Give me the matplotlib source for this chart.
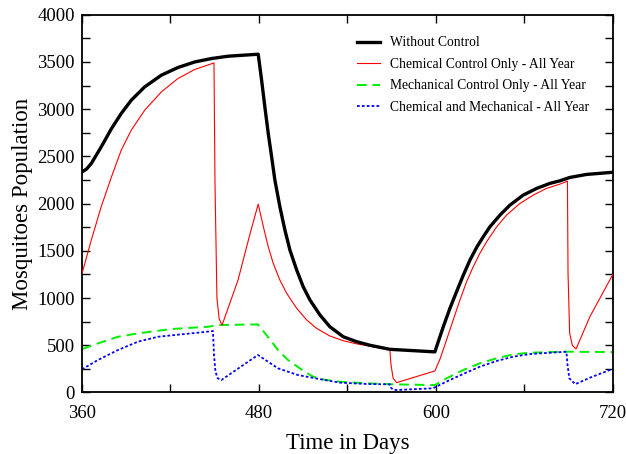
import matplotlib
matplotlib.use("Agg")
import matplotlib.pyplot as plt
from matplotlib.ticker import MultipleLocator

plt.rcParams['font.family'] = ['Liberation Serif', 'DejaVu Serif']

# Without Control
t_black = [360, 363, 366.3, 373, 380, 386.6, 393.4, 402.5, 413.8, 425, 436.4, 447.7, 459, 479.5,
           481.8, 484, 486.3, 488.6, 490.8, 494.2, 497.6, 501, 505.6, 510, 514.6, 521.4,
           528.1, 537.2, 546.2, 555.3, 568.8, 599.3,
           601.6, 605, 609.5, 614, 618.6, 623.1, 627.6, 632.1, 636.6, 643.4, 650.2,
           659.2, 668.3, 677.3, 684, 690.8, 702.1, 720]
y_black = [2336, 2365, 2425, 2600, 2795, 2954, 3095, 3236, 3360, 3441, 3500, 3536, 3561, 3582,
           3307, 3024, 2743, 2495, 2249, 1966, 1720, 1508, 1296, 1120, 979, 820,
           696, 590, 538, 500, 457, 430,
           538, 696, 891, 1067, 1243, 1402, 1536, 1649, 1754, 1878, 1984,
           2090, 2161, 2214, 2241, 2277, 2309, 2332]

# Chemical Control Only - All Year
t_red = [360, 366.3, 373, 380, 386.6, 393.4, 402.5, 413.8, 425, 436.4, 449.5,
         450.2, 451.5, 453, 455, 465.8, 474, 479.5,
         483, 486.3, 489.7, 494.2, 498.8, 505.6, 512.4, 519.1, 528.1, 537.2, 546.2,
         555.3, 568.8,
         569.5, 571, 573.4, 585, 599.3,
         602.7, 607.2, 611.7, 616.3, 620.8, 625.3, 629.8, 634.4, 641.2, 647.9, 657,
         666, 675, 684, 689.2,
         689.6, 690.7, 692.5, 695, 704.4, 720]
y_red = [1260, 1614, 1966, 2284, 2566, 2778, 2989, 3183, 3324, 3420, 3490,
         2200, 1000, 780, 714, 1190, 1684, 1995,
         1755, 1543, 1367, 1190, 1050, 891, 767, 679, 598, 548, 515,
         490, 452,
         300, 150, 104, 160, 228,
         351, 556, 767, 979, 1172, 1331, 1473, 1596, 1754, 1878, 2002,
         2090, 2161, 2206, 2238,
         1264, 630, 500, 460, 802, 1250]

# Mechanical Control Only - All Year
t_green = [360, 370.8, 384.4, 398, 420.5, 445.4, 452, 479.3,
           486, 492.9, 499.7, 511, 516.8, 524.5, 535, 553, 571, 599.3,
           607.2, 618.5, 629.8, 641.2, 652.4, 663.7, 686.3, 720]
y_green = [460, 520, 590, 626, 672, 696, 714, 721,
           590, 450, 344, 220, 167, 135, 114, 97, 86, 79,
           150, 238, 309, 362, 404, 421, 432, 428]

# Chemical and Mechanical - All Year
t_blue = [360, 370.8, 384.4, 398, 411.5, 425, 438.6, 448.8,
          449.5, 450.5, 452, 454.5, 479.3,
          492.9, 506.4, 524.5, 535, 553, 568.8,
          569.5, 571, 573.4, 585, 598, 599.3,
          607, 618.5, 629.8, 641, 652.4, 663.7, 688.5,
          689.2, 690.5, 694.5, 705, 720]
y_blue = [245, 344, 450, 538, 590, 612, 633, 651,
          400, 220, 150, 132, 397,
          256, 185, 132, 104, 90, 86,
          50, 30, 26, 35, 44, 55,
          114, 196, 273, 333, 379, 407, 432,
          300, 150, 88, 160, 250]

fig = plt.figure(figsize=(6.26, 4.54), dpi=100)
ax = fig.add_axes([0.131, 0.1355, 0.848, 0.832])

ax.plot(t_black, y_black, color='black', lw=2.4, label='Without Control', zorder=4)
ax.plot(t_red, y_red, color='#ff0000', lw=0.8, label='Chemical Control Only - All Year', zorder=3)
ax.plot(t_green, y_green, color='#00ee00', lw=1.4, ls=(0, (5, 3)), label='Mechanical Control Only - All Year', zorder=2)
ax.plot(t_blue, y_blue, color='#0000ff', lw=1.3, ls=(0, (1.5, 1.2)), label='Chemical and Mechanical - All Year', zorder=2)

ax.set_xlim(360, 720)
ax.set_ylim(0, 4000)
ax.xaxis.set_major_locator(MultipleLocator(120))
ax.xaxis.set_minor_locator(MultipleLocator(60))
ax.yaxis.set_major_locator(MultipleLocator(500))
ax.yaxis.set_minor_locator(MultipleLocator(250))
ax.tick_params(which='both', direction='in', top=True, right=True, labelsize=13.5, width=1.0, length=6)
ax.tick_params(axis='x', pad=9)
ax.tick_params(axis='y', pad=5)
for s in ax.spines.values():
    s.set_linewidth(1.3)

ax.set_xlabel('Time in Days', fontsize=16.5, labelpad=8)
ax.set_ylabel('Mosquitoes Population', fontsize=16.5, labelpad=3)

leg = ax.legend(loc='upper left', bbox_to_anchor=(0.495, 0.975), frameon=False, fontsize=9.8,
                handlelength=1.7, handletextpad=0.75, labelspacing=0.62)

fig.savefig('out.png', dpi=100)
